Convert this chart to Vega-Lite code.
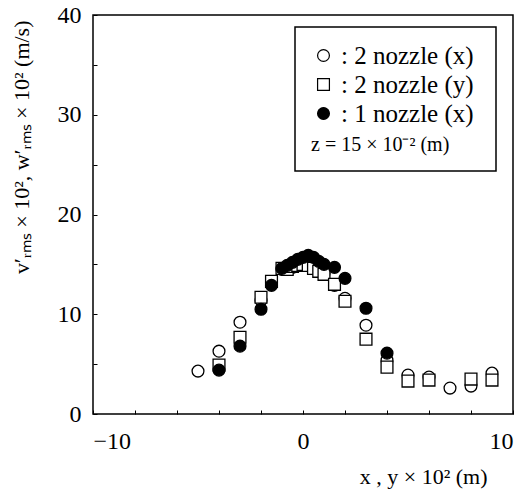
{
  "$schema": "https://vega.github.io/schema/vega-lite/v6.json",
  "width": 420,
  "height": 399,
  "autosize": {"type": "none"},
  "padding": {"left": 93, "top": 15, "right": 13, "bottom": 76},
  "background": "white",
  "data": {"values": [
    {"s": "2 nozzle (x)", "x": -5, "v": 4.3},
    {"s": "2 nozzle (x)", "x": -4, "v": 6.3},
    {"s": "2 nozzle (x)", "x": -3, "v": 9.2},
    {"s": "2 nozzle (x)", "x": -2, "v": 11.4},
    {"s": "2 nozzle (x)", "x": -1.5, "v": 13.2},
    {"s": "2 nozzle (x)", "x": -1, "v": 14.5},
    {"s": "2 nozzle (x)", "x": -0.75, "v": 14.6},
    {"s": "2 nozzle (x)", "x": -0.5, "v": 14.7},
    {"s": "2 nozzle (x)", "x": -0.25, "v": 14.9},
    {"s": "2 nozzle (x)", "x": 0, "v": 15.0},
    {"s": "2 nozzle (x)", "x": 0.25, "v": 15.0},
    {"s": "2 nozzle (x)", "x": 0.5, "v": 14.8},
    {"s": "2 nozzle (x)", "x": 0.75, "v": 14.5},
    {"s": "2 nozzle (x)", "x": 1, "v": 14.1},
    {"s": "2 nozzle (x)", "x": 1.5, "v": 12.9},
    {"s": "2 nozzle (x)", "x": 2, "v": 11.6},
    {"s": "2 nozzle (x)", "x": 3, "v": 8.9},
    {"s": "2 nozzle (x)", "x": 4, "v": 5.4},
    {"s": "2 nozzle (x)", "x": 5, "v": 3.9},
    {"s": "2 nozzle (x)", "x": 6, "v": 3.7},
    {"s": "2 nozzle (x)", "x": 7, "v": 2.6},
    {"s": "2 nozzle (x)", "x": 8, "v": 2.8},
    {"s": "2 nozzle (x)", "x": 9, "v": 4.1},
    {"s": "2 nozzle (y)", "x": -4, "v": 4.9},
    {"s": "2 nozzle (y)", "x": -3, "v": 7.7},
    {"s": "2 nozzle (y)", "x": -2, "v": 11.7},
    {"s": "2 nozzle (y)", "x": -1.5, "v": 13.3},
    {"s": "2 nozzle (y)", "x": -1, "v": 14.6},
    {"s": "2 nozzle (y)", "x": -0.75, "v": 14.5},
    {"s": "2 nozzle (y)", "x": -0.5, "v": 14.8},
    {"s": "2 nozzle (y)", "x": -0.25, "v": 14.9},
    {"s": "2 nozzle (y)", "x": 0, "v": 15.0},
    {"s": "2 nozzle (y)", "x": 0.25, "v": 14.9},
    {"s": "2 nozzle (y)", "x": 0.5, "v": 14.6},
    {"s": "2 nozzle (y)", "x": 0.75, "v": 14.3},
    {"s": "2 nozzle (y)", "x": 1, "v": 14.0},
    {"s": "2 nozzle (y)", "x": 1.5, "v": 13.0},
    {"s": "2 nozzle (y)", "x": 2, "v": 11.3},
    {"s": "2 nozzle (y)", "x": 3, "v": 7.5},
    {"s": "2 nozzle (y)", "x": 4, "v": 4.7},
    {"s": "2 nozzle (y)", "x": 5, "v": 3.3},
    {"s": "2 nozzle (y)", "x": 6, "v": 3.4},
    {"s": "2 nozzle (y)", "x": 8, "v": 3.5},
    {"s": "2 nozzle (y)", "x": 9, "v": 3.4},
    {"s": "1 nozzle (x)", "x": -4, "v": 4.4},
    {"s": "1 nozzle (x)", "x": -3, "v": 6.8},
    {"s": "1 nozzle (x)", "x": -2, "v": 10.5},
    {"s": "1 nozzle (x)", "x": -1.5, "v": 12.9},
    {"s": "1 nozzle (x)", "x": -1, "v": 14.6},
    {"s": "1 nozzle (x)", "x": -0.75, "v": 14.9},
    {"s": "1 nozzle (x)", "x": -0.5, "v": 15.2},
    {"s": "1 nozzle (x)", "x": -0.25, "v": 15.5},
    {"s": "1 nozzle (x)", "x": 0, "v": 15.7},
    {"s": "1 nozzle (x)", "x": 0.25, "v": 15.9},
    {"s": "1 nozzle (x)", "x": 0.5, "v": 15.7},
    {"s": "1 nozzle (x)", "x": 0.75, "v": 15.3},
    {"s": "1 nozzle (x)", "x": 1, "v": 15.0},
    {"s": "1 nozzle (x)", "x": 1.5, "v": 14.7},
    {"s": "1 nozzle (x)", "x": 2, "v": 13.6},
    {"s": "1 nozzle (x)", "x": 3, "v": 10.6},
    {"s": "1 nozzle (x)", "x": 4, "v": 6.1}
  ]},
  "mark": {"type": "point", "filled": true, "strokeWidth": 1.3, "opacity": 1},
  "encoding": {
    "x": {
      "field": "x", "type": "quantitative",
      "scale": {"domain": [-10, 10], "nice": false},
      "axis": {
        "values": [-10, -8, -6, -4, -2, 0, 2, 4, 6, 8, 10],
        "labelExpr": "datum.value % 10 == 0 ? datum.label : ''",
        "title": "x , y × 10²  (m)",
        "titleX": 394, "titleY": 69, "titleAlign": "right", "titleBaseline": "alphabetic",
        "labelPadding": 19
      }
    },
    "y": {
      "field": "v", "type": "quantitative",
      "scale": {"domain": [0, 40], "nice": false},
      "axis": {
        "values": [0, 5, 10, 15, 20, 25, 30, 35, 40],
        "labelExpr": "datum.value % 10 == 0 ? datum.label : ''",
        "title": "v′ᵣₘₛ × 10², w′ᵣₘₛ × 10² (m/s)",
        "titleX": -65, "titleY": 5, "titleAlign": "right", "titleBaseline": "alphabetic", "titleAngle": -90,
        "labelPadding": 16
      }
    },
    "shape": {
      "field": "s", "type": "nominal", "title": "z  =  15 × 10⁻² (m)",
      "scale": {"domain": ["2 nozzle (x)", "2 nozzle (y)", "1 nozzle (x)"], "range": ["circle", "square", "circle"]},
      "legend": {"labelExpr": "':  ' + datum.label"}
    },
    "fill": {
      "field": "s", "type": "nominal", "title": "z  =  15 × 10⁻² (m)",
      "scale": {"domain": ["2 nozzle (x)", "2 nozzle (y)", "1 nozzle (x)"], "range": ["white", "white", "black"]},
      "legend": {"labelExpr": "':  ' + datum.label"}
    },
    "stroke": {
      "field": "s", "type": "nominal", "title": "z  =  15 × 10⁻² (m)",
      "scale": {"domain": ["2 nozzle (x)", "2 nozzle (y)", "1 nozzle (x)"], "range": ["black", "black", "black"]},
      "legend": {"labelExpr": "':  ' + datum.label"}
    },
    "size": {
      "field": "s", "type": "nominal", "title": "z  =  15 × 10⁻² (m)",
      "scale": {"domain": ["2 nozzle (x)", "2 nozzle (y)", "1 nozzle (x)"], "range": [140, 140, 80]},
      "legend": {"labelExpr": "':  ' + datum.label"}
    }
  },
  "config": {
    "view": {"stroke": "black", "strokeWidth": 1.5},
    "axis": {
      "grid": false,
      "domain": false,
      "tickSize": -4,
      "tickColor": "black",
      "tickWidth": 1,
      "labelFont": "Liberation Serif",
      "labelFontSize": 24,
      "labelColor": "black",
      "titleFont": "Liberation Serif",
      "titleFontSize": 22,
      "titleFontWeight": "normal",
      "titleColor": "black"
    },
    "legend": {
      "orient": "none",
      "legendX": 202,
      "legendY": 12,
      "strokeColor": "black",
      "strokeWidth": 1.5,
      "fillColor": "white",
      "padding": 16,
      "titleOrient": "bottom",
      "titleFont": "Liberation Serif",
      "titleFontSize": 20,
      "titleFontWeight": "normal",
      "titleColor": "black",
      "titlePadding": 8,
      "labelFont": "Liberation Serif",
      "labelFontSize": 25,
      "labelColor": "black",
      "labelOffset": 5,
      "rowPadding": 3,
      "symbolStrokeWidth": 1.2
    }
  }
}
